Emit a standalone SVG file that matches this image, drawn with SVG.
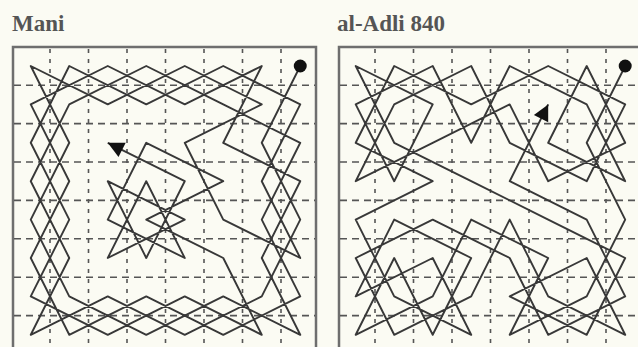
<svg xmlns="http://www.w3.org/2000/svg" width="638" height="347" viewBox="0 0 638 347">
<style>
.bg{fill:#fbfbf3}
.frame{fill:none;stroke:#6e6e6e;stroke-width:2.5}
.gv{fill:none;stroke:#555;stroke-width:1.6;stroke-dasharray:4 6}
.gh{fill:none;stroke:#555;stroke-width:1.6;stroke-dasharray:7 5}
.t{fill:none;stroke:#383838;stroke-width:1.9;stroke-linejoin:round;vector-effect:non-scaling-stroke}
.title{font-family:"Liberation Serif","Times New Roman",serif;font-size:23px;font-weight:bold;fill:#555}
.mk{fill:#111}
</style>
<rect class="bg" x="0" y="0" width="638" height="347"/>
<g id="board-mani">
<text class="title" x="12" y="31">Mani</text>
<rect class="frame" x="13" y="47" width="303" height="310"/>
<path class="gv" d="M50 49V347M88.5 49V347M127 49V347M165.5 49V347M204 49V347M242.5 49V347M281 49V347"/>
<path class="gh" d="M14 85.2H315M14 123.6H315M14 162H315M14 200.4H315M14 238.8H315M14 277.2H315M14 315.6H315"/>
</g>
<g id="board-adli">
<text class="title" x="337" y="31">al-Adli 840</text>
<rect class="frame" x="339" y="47" width="310" height="310"/>
<path class="gv" d="M375 49V347M413.5 49V347M452 49V347M490.5 49V347M529 49V347M567.5 49V347M606 49V347"/>
<path class="gh" d="M340 85.2H638M340 123.6H638M340 162H638M340 200.4H638M340 238.8H638M340 277.2H638M340 315.6H638"/>
</g>
<g id="connectors">
<g id="tour-mani" transform="matrix(38.5 0 0 38.4 30.75 66)">
<polyline class="t" points="7,0 6,2 7,4 6,6 4,7 2,6 0,7 1,5 0,3 1,1 3,0 5,1 7,2 6,4 7,6 5,7 3,6 1,7 0,5 1,3 0,1 2,0 4,1 6,0 5,2 7,3 6,5 7,7 5,6 3,7 1,6 0,4 1,2 0,0 2,1 4,0 6,1 4,2 5,4 7,5 6,3 7,1 5,0 3,1 1,0 0,2 1,4 0,6 2,7 4,6 6,7 5,5 3,4 5,3 3,2 2,4 4,5 3,3 2,5 4,4 2,3 3,5 4,3 2,2"/>
</g>
<g id="tour-adli" transform="matrix(38.5 0 0 38.4 355.7 66)">
<polyline class="t" points="7,0 6,2 7,4 6,6 4,7 5,5 3,4 2,6 0,7 1,5 2,7 3,5 1,4 0,6 2,5 3,7 1,6 0,4 2,3 0,2 1,0 3,1 5,0 7,1 6,3 4,2 3,0 1,1 0,3 2,2 4,1 5,3 7,2 6,0 5,2 7,3 6,1 4,0 3,2 2,0 0,1 1,3 2,1 0,0 1,2 3,3 5,4 7,5 6,7 4,6 6,5 7,7 5,6 4,4 3,6 1,7 0,5 2,4 4,5 5,7 7,6 6,4 4,3 5,1"/>
</g>
</g>
<g id="markers">
<circle class="mk" cx="300.25" cy="66" r="6.5"/>
<polygon class="mk" points="107.75,142.8 125.7,142.7 118.5,157.1"/>
<circle class="mk" cx="625.2" cy="66" r="6.5"/>
<polygon class="mk" points="548.2,104.4 548.2,122.3 533.9,115.1"/>
</g>
</svg>
